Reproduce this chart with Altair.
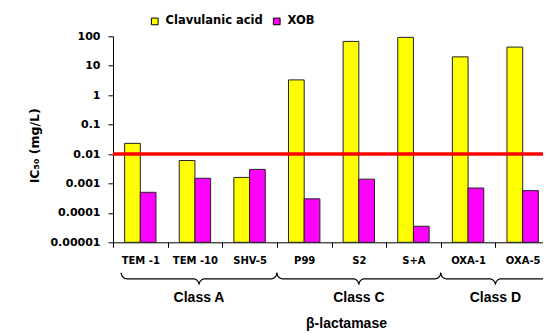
import math
import altair as alt
import pandas as pd

# ---------------- data ----------------
categories = ["TEM -1", "TEM -10", "SHV-5", "P99", "S2", "S+A", "OXA-1", "OXA-5"]
clavulanic = [0.023, 0.006, 0.0016, 3.3, 67, 92, 20, 43]
xob = [0.0005, 0.0015, 0.003, 0.0003, 0.0014, 0.000035, 0.0007, 0.00057]
series = ["Clavulanic acid", "XOB"]
colors = ["#FFFF00", "#FF00FF"]
classes = ["Class A", "Class C", "Class D"]
class_spans = [(0, 3), (3, 6), (6, 8)]
y_ticks = [1e-5, 1e-4, 1e-3, 1e-2, 1e-1, 1, 10, 100]
threshold = [0.01]

# ---------------- layout ----------------
LEFT = 105
W = 430            # visible plot width (svg is clipped at the right edge)
W_FULL = 437       # full extent of the 8 category bands (runs past the edge)
H = 206
step = W_FULL / len(categories)
BRACE_TOP = H + 30.5
BRACE_R = 6
CLASS_Y = H + 56

rows = []
for i, c in enumerate(categories):
    rows.append({"cat": c, "series": series[0], "v": clavulanic[i]})
    rows.append({"cat": c, "series": series[1], "v": xob[i]})
bars_df = pd.DataFrame(rows)


def brace_points(xl, xr, xc, yt, r, n=8):
    pts = []
    for k in range(n + 1):
        t = math.pi - (math.pi / 2) * k / n
        pts.append((xl + r + r * math.cos(t), yt + r * math.sin(t)))
    for k in range(n + 1):
        t = -math.pi / 2 + (math.pi / 2) * k / n
        pts.append((xc - r + r * math.cos(t), yt + 2 * r + r * math.sin(t)))
    for k in range(n + 1):
        t = math.pi + (math.pi / 2) * k / n
        pts.append((xc + r + r * math.cos(t), yt + 2 * r + r * math.sin(t)))
    for k in range(n + 1):
        t = math.pi / 2 - (math.pi / 2) * k / n
        pts.append((xr - r + r * math.cos(t), yt + r * math.sin(t)))
    return pts


brace_rows = []
label_rows = []
for name, (s, e) in zip(classes, class_spans):
    xl = max(s * step, 0.15 * step)
    xr = e * step
    xc = (xl + xr) / 2
    for j, (px, py) in enumerate(brace_points(xl, xr, xc, BRACE_TOP, BRACE_R)):
        brace_rows.append({"cls": name, "i": j, "bx": px, "by": py})
    label_rows.append({"cls": name, "bx": xc, "by": CLASS_Y})
brace_df = pd.DataFrame(brace_rows)
label_df = pd.DataFrame(label_rows)
rule_df = pd.DataFrame({"t": threshold})

SPACED = "DejaVu Sans"
PLAIN = "Liberation Sans"

x_enc = alt.X(
    "cat:N",
    sort=categories,
    scale=alt.Scale(paddingInner=0, paddingOuter=0, range=[0, W_FULL]),
    axis=alt.Axis(
        title="β-lactamase",
        titleFont=PLAIN,
        titleFontSize=14,
        titleFontWeight="bold",
        titleX=233,
        titleY=81,
        titleBaseline="middle",
        titleAlign="center",
        labelAngle=0,
        labelFont=SPACED,
        labelFontSize=10,
        labelFontWeight="bold",
        labelPadding=8,
        tickSize=5,
        tickBand="extent",
        labelColor="black",
        domainColor="black",
        tickColor="black",
    ),
)

y_enc = alt.Y(
    "v:Q",
    scale=alt.Scale(type="log", domain=[1e-5, 100]),
    stack=None,
    axis=alt.Axis(
        values=y_ticks,
        labelExpr="format(datum.value, '.5~f')",
        title="IC₅₀ (mg/L)",
        titleFont=SPACED,
        titleFontSize=12.5,
        titleFontWeight="bold",
        titleX=-79,
        titleY=109,
        titleAngle=270,
        titleBaseline="middle",
        titleAlign="center",
        labelFont=SPACED,
        labelFontSize=11,
        labelFontWeight="bold",
        labelPadding=8,
        tickSize=5,
        labelColor="black",
        domainColor="black",
        tickColor="black",
        grid=False,
    ),
)

bars = alt.Chart(bars_df).mark_bar(stroke="#222222", strokeWidth=1).encode(
    x=x_enc,
    xOffset=alt.XOffset("series:N", sort=series,
                        scale=alt.Scale(domain=series, paddingInner=0, paddingOuter=0.74)),
    y=y_enc,
    color=alt.Color(
        "series:N",
        scale=alt.Scale(domain=series, range=colors),
        legend=alt.Legend(
            title=None,
            orient="none",
            direction="horizontal",
            legendX=36,
            legendY=-21,
            symbolType="square",
            symbolSize=45,
            symbolStrokeColor="black",
            symbolStrokeWidth=1,
            symbolOpacity=1,
            labelFont=SPACED,
            labelFontSize=11.5,
            labelFontWeight="bold",
            labelColor="black",
            labelOffset=5,
            columnPadding=8,
            padding=0,
        ),
    ),
)

rule = alt.Chart(rule_df).mark_rule(color="#FF0000", strokeWidth=3.5).encode(
    y=alt.Y("t:Q", scale=alt.Scale(type="log", domain=[1e-5, 100]))
)

bx = alt.X("bx:Q", scale=alt.Scale(domain=[0, W_FULL], range=[0, W_FULL]), axis=None)
by = alt.Y("by:Q", scale=alt.Scale(domain=[0, H], range=[0, H]), axis=None)

braces = alt.Chart(brace_df).mark_line(color="black", strokeWidth=1.2).encode(
    x=bx, y=by, detail="cls:N", order="i:Q"
)
class_text = alt.Chart(label_df).mark_text(
    font=PLAIN, fontSize=14, fontWeight="bold", color="black", baseline="middle"
).encode(x=bx, y=by, text="cls:N")

chart = (
    alt.layer(
        alt.layer(bars, rule),
        alt.layer(braces, class_text),
    )
    .resolve_scale(x="independent", y="independent")
    .properties(
        width=W,
        height=H,
        autosize=alt.AutoSizeParams(type="none"),
        padding={"left": LEFT, "top": 28.3, "right": 0, "bottom": 88.7},
        background="white",
    )
    .configure_view(stroke=None)
)

chart.save("out.html", embed_options={"renderer": "svg", "actions": False})
